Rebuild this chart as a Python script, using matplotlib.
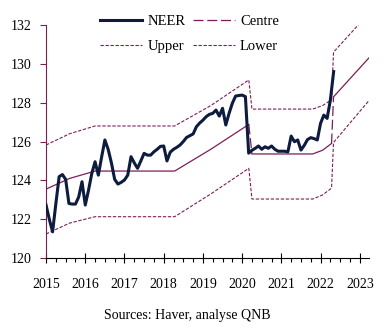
import numpy as np
import pandas as pd
import matplotlib
matplotlib.use('Agg')
import matplotlib.pyplot as plt
from matplotlib.lines import Line2D
from matplotlib.ticker import MultipleLocator

plt.rcParams['font.family'] = 'Liberation Serif'

# NEER mensuel, janv. 2015 - mai 2022
neer = [122.73, 122.0, 121.35, 122.8, 124.19, 124.3, 124.05, 122.81, 122.78, 122.78, 123.15, 123.93,
        122.73, 123.5, 124.36, 124.96, 124.27, 125.2, 126.08, 125.6, 124.9, 124.05, 123.81, 123.9,
        124.02, 124.27, 125.22, 124.9, 124.62, 125.0, 125.39, 125.3, 125.3, 125.47, 125.6, 125.75,
        125.77, 125.0, 125.45, 125.6, 125.7, 125.82, 126.0, 126.21, 126.3, 126.39, 126.76, 126.95,
        127.1, 127.28, 127.4, 127.45, 127.62, 127.31, 127.71, 126.85, 127.45, 127.97, 128.34, 128.37,
        128.39, 128.31, 125.4, 125.55, 125.65, 125.77, 125.6, 125.73, 125.65, 125.77, 125.6, 125.5,
        125.5, 125.5, 125.47, 126.28, 125.99, 126.08, 125.56, 125.8, 126.1, 126.2, 126.15, 126.08,
        126.94, 127.36, 127.19, 128.14, 129.6]
mois = pd.date_range('2015-01-01', periods=len(neer), freq='MS')
x_neer = mois.year + (mois.month - 1) / 12

# bandes (annees decimales)
bande_x = [2015.0, 2015.6, 2016.25, 2018.28, 2019.2, 2020.17, 2020.25, 2021.8, 2022.05, 2022.28, 2022.33, 2023.23]
centre = [123.55, 124.1, 124.48, 124.48, 125.6, 126.88, 125.36, 125.36, 125.55, 125.9, 128.3, 130.3]
upper = [125.82, 126.4, 126.8, 126.8, 127.85, 129.17, 127.67, 127.67, 127.85, 128.15, 130.6, 132.6]
lower = [121.24, 121.8, 122.13, 122.13, 123.3, 124.62, 123.04, 123.04, 123.25, 123.6, 125.95, 128.1]

bordeaux = '#7b1e57'
marine = '#0d1b3e'
court = (0, (3, 1.5))
long_ = (0, (8, 3))

fig = plt.figure(figsize=(3.87, 3.33), dpi=100)
ax = fig.add_axes([0.119, 0.225, 0.834, 0.70])

ax.plot(bande_x, upper, color=bordeaux, lw=0.8, ls=court)
ax.plot(bande_x, lower, color=bordeaux, lw=0.8, ls=court)

# centre: trait plein, sauts en tirets
for a, b, ls in [(0, 6, '-'), (5, 7, long_), (6, 10, '-'), (9, 11, long_), (10, 12, '-')]:
    ax.plot(bande_x[a:b], centre[a:b], color=bordeaux, lw=0.9, ls=ls)

ax.plot(x_neer, neer, color=marine, lw=2.2, zorder=3)

ax.set_xlim(2015, 2023.23)
ax.set_ylim(120, 132)
ax.set_xticks(range(2015, 2024))
ax.set_xticklabels([str(a) for a in range(2015, 2024)])
ax.xaxis.set_minor_locator(MultipleLocator(0.25))
ax.set_yticks(range(120, 133, 2))

for s in ['top', 'right']:
    ax.spines[s].set_visible(False)
ax.spines['left'].set_color(bordeaux)
ax.spines['left'].set_linewidth(0.8)
ax.spines['bottom'].set_linewidth(0.8)

ax.tick_params(axis='x', which='major', direction='inout', length=6.5, width=0.8, labelsize=10, pad=11)
ax.tick_params(axis='x', which='minor', direction='out', length=3, width=0.8)
ax.tick_params(axis='y', direction='out', length=4.3, width=0.8, color=bordeaux, labelsize=10, pad=6)

handles = [Line2D([], [], color=marine, lw=2.2),
           Line2D([], [], color=bordeaux, lw=0.8, ls=court),
           Line2D([], [], color=bordeaux, lw=0.9, ls=long_),
           Line2D([], [], color=bordeaux, lw=0.8, ls=court)]
labels = ['NEER', 'Upper', 'Centre', 'Lower']
fig.legend(handles, labels, ncol=2, loc='upper left', bbox_to_anchor=(0.258, 0.955),
           frameon=False, fontsize=10.5, handlelength=2.9, handletextpad=0.35,
           columnspacing=0.5, labelspacing=0.8, borderpad=0, borderaxespad=0)

fig.text(0.485, 1 - 315 / 333, 'Sources: Haver, analyse QNB', ha='center', va='center', fontsize=10)

fig.savefig('out.png', dpi=100)
